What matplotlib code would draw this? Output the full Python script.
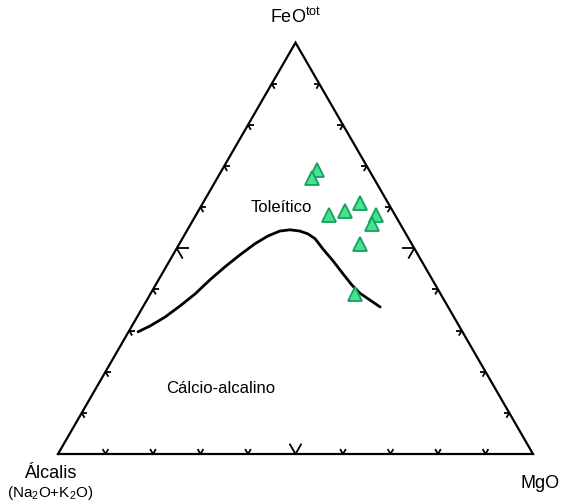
import matplotlib
matplotlib.use("Agg")
import matplotlib.pyplot as plt
import numpy as np

# AFM diagram: Alkalis (Na2O+K2O) - FeOtot - MgO, in percent
sample_alk = [11, 13, 6, 14, 10, 4, 6, 11, 18]
sample_feo = [69, 67, 61, 58, 59, 58, 56, 51, 39]
sample_mgo = [20, 20, 33, 28, 31, 38, 38, 38, 43]

# tholeiitic / calc-alkaline boundary
boundary_alk = [68.3, 65.1, 60.8, 56.3, 51.7, 46.9, 42.1, 37.5, 33.0, 29.3, 26.2,
                23.9, 22.0, 20.6, 19.7, 19.3, 18.6, 18.1, 17.6, 16.9, 15.6, 14.3]
boundary_feo = [29.7, 31.1, 33.3, 36.0, 38.9, 42.3, 45.5, 48.4, 51.1, 53.0, 54.2,
                54.5, 54.2, 53.5, 52.3, 49.8, 46.9, 43.8, 41.1, 39.1, 37.4, 35.7]
boundary_mgo = [2.0, 3.8, 5.9, 7.7, 9.4, 10.8, 12.4, 14.1, 15.9, 17.7, 19.6,
                21.6, 23.8, 25.9, 28.0, 30.9, 34.4, 38.1, 41.4, 44.0, 47.0, 49.9]

tick_fractions = [0.1, 0.2, 0.3, 0.4, 0.5, 0.6, 0.7, 0.8, 0.9]

plt.rcParams['font.family'] = ['Liberation Sans', 'DejaVu Sans']
plt.rcParams['mathtext.fontset'] = 'custom'
plt.rcParams['mathtext.rm'] = 'Liberation Sans'

H = np.sqrt(3) / 2


def to_xy(alk, feo, mgo):
    """
    Convert ternary percentages to cartesian coordinates in the unit triangle.
    """
    alk, feo, mgo = (np.asarray(v, dtype=float) for v in (alk, feo, mgo))
    total = alk + feo + mgo
    f = feo / total
    m = mgo / total
    return m + f / 2, f * H


def draw_frame(ax):
    """
    Triangle outline plus the chevron ticks on each side.
    """
    corners = np.array([[0, 0], [1, 0], [0.5, H], [0, 0]])
    ax.plot(corners[:, 0], corners[:, 1], color='black', lw=1.6, solid_joinstyle='miter')

    # side start, side end, directions (deg) of the two tick arms
    sides = [
        ((0, 0), (1, 0), (60, 120)),
        ((1, 0), (0.5, H), (180, 240)),
        ((0.5, H), (0, 0), (0, 300)),
    ]
    for start, end, angles in sides:
        start = np.array(start)
        end = np.array(end)
        for t in tick_fractions:
            p = start + t * (end - start)
            size = 0.025 if t == 0.5 else 0.012
            for a in angles:
                d = np.array([np.cos(np.radians(a)), np.sin(np.radians(a))])
                q = p + size * d
                ax.plot([p[0], q[0]], [p[1], q[1]], color='black', lw=1.3,
                        solid_capstyle='butt')


def main():
    fig = plt.figure(figsize=(5.62, 5.02), dpi=100)
    ax = fig.add_axes([0, 0, 1, 1])
    ax.set_xlim(-58 / 475, 504 / 475)
    ax.set_ylim(-47 / 475, 455 / 475)
    ax.axis('off')

    draw_frame(ax)

    bx, by = to_xy(boundary_alk, boundary_feo, boundary_mgo)
    ax.plot(bx, by, color='black', lw=2.0, solid_capstyle='round', solid_joinstyle='round')

    sx, sy = to_xy(sample_alk, sample_feo, sample_mgo)
    ax.plot(sx, sy, linestyle='none', marker='^', markersize=10,
            markerfacecolor='#45e391', markeredgecolor='#17a05c', markeredgewidth=1.3)

    ax.text(0.5, H + 0.055, r'FeO$^{\mathrm{tot}}$', ha='center', va='center', fontsize=13)
    ax.text(-0.017, -0.038, 'Álcalis', ha='center', va='center', fontsize=13)
    ax.text(-0.017, -0.080, r'(Na$_{\mathrm{2}}$O+K$_{\mathrm{2}}$O)', ha='center', va='center', fontsize=11)
    ax.text(1.015, -0.059, 'MgO', ha='center', va='center', fontsize=13)
    ax.text(0.47, 0.52, 'Toleítico', ha='center', va='center', fontsize=12)
    ax.text(0.343, 0.14, 'Cálcio-alcalino', ha='center', va='center', fontsize=12)

    fig.savefig('out.png', dpi=100)


if __name__ == "__main__":
    main()
